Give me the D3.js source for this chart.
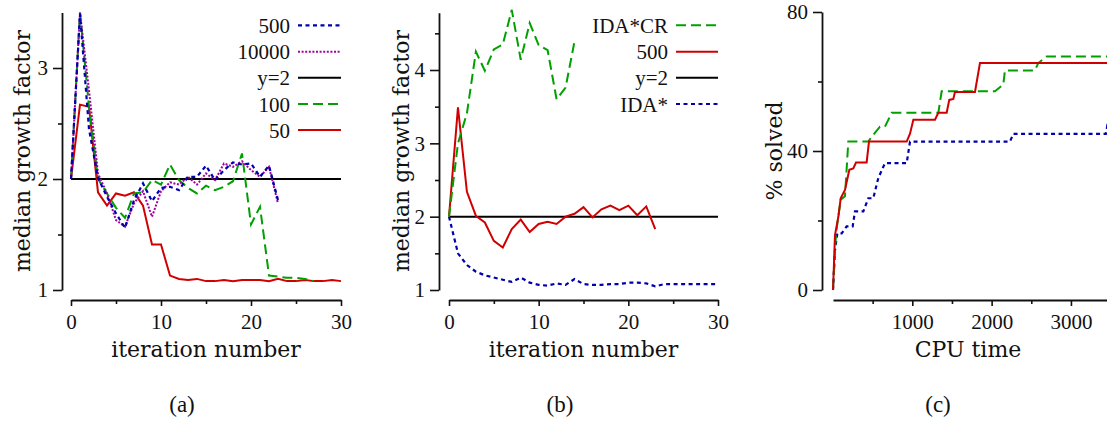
<!DOCTYPE html>
<html><head><meta charset="utf-8">
<script src="https://cdn.jsdelivr.net/npm/d3@7"></script>
<style>
body{margin:0;background:#fff;}
</style></head>
<body><svg id="c" width="1107" height="423"></svg>
<script>
// ---------- data ----------
// panel (a): median growth factor per iteration (index = iteration)
const a500   = [2.0,3.49,2.45,2.01,1.84,1.69,1.56,1.81,1.96,1.80,1.92,1.93,1.90,2.02,2.02,2.12,1.99,2.08,2.15,2.13,2.14,2.02,2.12,1.81];
const a10000 = [2.0,3.5,2.8,2.05,1.87,1.63,1.57,1.78,1.89,1.66,1.89,1.97,1.95,2.02,1.95,2.05,1.99,2.14,2.11,2.16,2.08,2.02,2.11,1.78];
const a100   = [2.0,3.5,2.65,2.0,1.87,1.74,1.65,1.87,1.88,1.99,1.95,2.13,1.99,1.92,1.87,1.94,1.90,1.93,1.98,2.23,1.59,1.75,1.13,1.12,1.11,1.11,1.10,1.08];
const a50    = [2.0,2.67,2.65,1.88,1.76,1.87,1.85,1.88,1.76,1.41,1.41,1.13,1.10,1.09,1.10,1.08,1.08,1.09,1.08,1.09,1.09,1.09,1.08,1.10,1.08,1.08,1.09,1.08,1.08,1.09,1.08];
// panel (b)
const bIDACR = [2.0,3.0,3.41,4.25,3.99,4.28,4.35,4.82,4.14,4.64,4.34,4.27,3.60,3.76,4.39];
const b500   = [2.0,3.49,2.34,2.01,1.92,1.67,1.58,1.83,1.96,1.79,1.90,1.93,1.90,2.0,2.04,2.13,1.99,2.10,2.15,2.09,2.15,2.02,2.14,1.83];
const bIDA   = [2.0,1.50,1.34,1.25,1.20,1.17,1.14,1.11,1.17,1.10,1.07,1.06,1.09,1.07,1.15,1.08,1.07,1.07,1.08,1.08,1.10,1.10,1.09,1.05,1.08,1.08,1.08,1.08,1.08,1.08,1.08];
// reference line y=2 over iterations 0..30
const refX = [0,30];
const refY = [2,2];
// panel (c): % solved vs CPU time
const cRedT   = [0,13,25,67,97,151,206,256,290,424,454,929,971,1013,1286,1328,1433,1466,1517,1538,1790,1853,3600];
const cRedV   = [0,8,15.8,21,26.4,28.8,34.6,35,36.7,36.7,42.7,42.7,45,49,49,51,51,54.7,55,57,57,65.3,65.3];
const cGreenT = [0,38,97,151,193,445,487,592,655,740,1328,1370,2042,2147,2168,2546,2588,2693,3600];
const cGreenV = [0,16.3,26,27,42.7,42.7,44.1,47,47,51,51,57.2,57.2,59.1,63.2,63.2,65.3,67.2,67.2];
const cBlueT  = [0,25,55,109,172,248,277,382,445,508,571,655,929,971,2231,2273,3440,3460,3600];
const cBlueV  = [0,11.5,16.3,16.3,18.3,18.3,22.6,22.6,26.4,26.4,32.2,36.5,36.5,42.7,42.7,44.9,44.9,47.5,47.5];
// tick values
const itTicks = [0,10,20,30], itMinor = [5,15,25];
const aYTicks = [1,2,3], aYMinor = [1.5,2.5];
const bYTicks = [1,2,3,4], bYMinor = [1.5,2.5,3.5,4.5];
const cYTicks = [0,40,80], cYMinor = [20,60];
const cXTicks = [1000,2000,3000], cXMinor = [500,1500,2500,3500];
// legends
const legA = ["500","10000","y=2","100","50"];
const legB = ["IDA*CR","500","y=2","IDA*"];
const panelLabels = ["(a)","(b)","(c)"];

// ---------- styles ----------
const FONT = "Liberation Serif";
const FONT2 = "DejaVu Serif";
const ST = {
  red:   {stroke:"#d00000", dash:null, w:2},
  green: {stroke:"#00a000", dash:"10,5", w:2},
  blue:  {stroke:"#0000b0", dash:"4,3.5", w:2.2},
  purple:{stroke:"#a000a0", dash:"2,1.6", w:2},
  black: {stroke:"#000", dash:null, w:2}
};

const svg = d3.select("#c");
svg.append("rect").attr("width",1107).attr("height",423).attr("fill","#fff");

function txt(sel, f){ return sel.style("font-family",f||FONT).attr("fill","#111"); }

function axes(g, x, y, xt, xm, yt, ym){
  const yx = g.attr("data-yx");
  const ax = g.append("g").attr("transform","translate(0,300)")
    .call(d3.axisBottom(x).tickValues(xt).tickSize(6).tickSizeOuter(0).tickPadding(8).tickFormat(d3.format("d")));
  const axm = g.append("g").attr("transform","translate(0,300)")
    .call(d3.axisBottom(x).tickValues(xm).tickSize(4).tickFormat(""));
  axm.select(".domain").remove();
  const ay = g.append("g").attr("transform",`translate(${yx},0)`)
    .call(d3.axisLeft(y).tickValues(yt).tickSize(9).tickSizeOuter(0).tickPadding(5).tickFormat(d3.format("d")));
  const aym = g.append("g").attr("transform",`translate(${yx},0)`)
    .call(d3.axisLeft(y).tickValues(ym).tickSize(4).tickFormat(""));
  aym.select(".domain").remove();
  [ax,axm,ay,aym].forEach(a=>{
    a.attr("font-family",null).attr("font-size",null);
    txt(a.selectAll("text")).style("font-size","21px");
    a.selectAll("line").attr("stroke","#111").attr("stroke-width",1.6);
    a.select(".domain").attr("stroke","#111").attr("stroke-width",1.8);
  });
}

function drawLine(g, xs, ys, x, y, st){
  const pts = ys.map((v,i)=>[xs?xs[i]:i, v]);
  g.append("path").attr("d", d3.line().x(d=>x(d[0])).y(d=>y(d[1]))(pts))
    .attr("fill","none").attr("stroke",st.stroke).attr("stroke-width",st.w)
    .attr("stroke-dasharray",st.dash);
}

function legend(g, names, styles, xr, x0, x1, ys){
  names.forEach((n,i)=>{
    txt(g.append("text")).attr("x",xr).attr("y",ys[i]+7.5).attr("text-anchor","end")
      .style("font-size","21px").text(n);
    g.append("line").attr("x1",x0).attr("x2",x1).attr("y1",ys[i]).attr("y2",ys[i])
      .attr("stroke",styles[i].stroke).attr("stroke-width",styles[i].w)
      .attr("stroke-dasharray",styles[i].dash);
  });
}

function ytitle(g, t, xb){
  txt(g.append("text"),FONT2).attr("transform",`translate(${xb},151) rotate(-90)`)
    .attr("text-anchor","middle").style("font-size","22px").text(t);
}
function xtitle(g, t, xc){
  txt(g.append("text"),FONT2).attr("x",xc).attr("y",357).attr("text-anchor","middle")
    .style("font-size","22px").text(t);
}

// ---------- panel (a) ----------
{
  const g = svg.append("g").attr("data-yx",62);
  const x = d3.scaleLinear().domain([0,30]).range([71,341]);
  const y = d3.scaleLinear().domain([1,3.5]).range([290,12.5]);
  axes(g,x,y,itTicks,itMinor,aYTicks,aYMinor);
  drawLine(g,refX,refY,x,y,ST.black);
  drawLine(g,null,a50,x,y,ST.red);
  drawLine(g,null,a100,x,y,ST.green);
  drawLine(g,null,a10000,x,y,ST.purple);
  drawLine(g,null,a500,x,y,ST.blue);
  legend(g,legA,[ST.blue,ST.purple,ST.black,ST.green,ST.red],290,298,341,[25.3,51.7,77.7,104,130]);
  ytitle(g,"median growth factor",30);
  xtitle(g,"iteration number",206);
}
// ---------- panel (b) ----------
{
  const g = svg.append("g").attr("data-yx",439);
  const x = d3.scaleLinear().domain([0,30]).range([449,718]);
  const y = d3.scaleLinear().domain([1,4.78]).range([290,12.8]);
  axes(g,x,y,itTicks,itMinor,bYTicks,bYMinor);
  drawLine(g,refX,refY,x,y,ST.black);
  drawLine(g,null,bIDA,x,y,ST.blue);
  drawLine(g,null,b500,x,y,ST.red);
  drawLine(g,null,bIDACR,x,y,ST.green);
  legend(g,legB,[ST.green,ST.red,ST.black,ST.blue],668,676,718,[25.3,51.7,77.7,104]);
  ytitle(g,"median growth factor",409);
  xtitle(g,"iteration number",583.5);
}
// ---------- panel (c) ----------
{
  const g = svg.append("g").attr("data-yx",822);
  const x = d3.scaleLinear().domain([0,3500]).range([833,1110.6]);
  const y = d3.scaleLinear().domain([0,80]).range([290,12]);
  axes(g,x,y,cXTicks,cXMinor,cYTicks,cYMinor);
  drawLine(g,cBlueT,cBlueV,x,y,ST.blue);
  drawLine(g,cGreenT,cGreenV,x,y,ST.green);
  drawLine(g,cRedT,cRedV,x,y,ST.red);
  ytitle(g,"% solved",782);
  xtitle(g,"CPU time",968);
}
// panel labels
[182,560,938].forEach((cx,i)=>{
  txt(svg.append("text")).attr("x",cx).attr("y",412).attr("text-anchor","middle")
    .style("font-size","23px").text(panelLabels[i]);
});
</script></body></html>
